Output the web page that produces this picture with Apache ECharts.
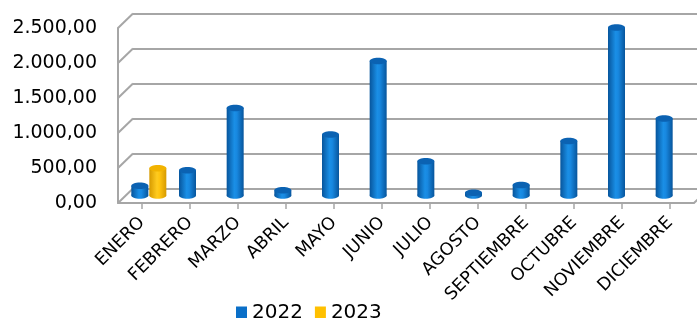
<!DOCTYPE html>
<html>
<head>
<meta charset="utf-8">
<script src="https://cdn.jsdelivr.net/npm/echarts@6/dist/echarts.min.js"></script>
<style>
html,body{margin:0;padding:0;background:#fff;}
#c{width:697px;height:318px;}
</style>
</head>
<body>
<div id="c"></div>
<script>
const categories = ['ENERO','FEBRERO','MARZO','ABRIL','MAYO','JUNIO','JULIO','AGOSTO','SEPTIEMBRE','OCTUBRE','NOVIEMBRE','DICIEMBRE'];
const values2022 = [140, 360, 1250, 75, 870, 1920, 490, 40, 150, 780, 2400, 1100];
const values2023 = [390, null, null, null, null, null, null, null, null, null, null, null];
const seriesNames = ['2022', '2023'];
const yTicks = [0, 500, 1000, 1500, 2000, 2500];

const FONT = 'DejaVu Sans';
const GRID_COLOR = '#a6a6a6';

function fmt(v) {
  const s = Math.round(v).toString().replace(/\B(?=(\d{3})+(?!\d))/g, '.');
  return s + ',00';
}

const blueSide = () => new echarts.graphic.LinearGradient(0, 0, 1, 0, [
  {offset: 0, color: '#07559c'},
  {offset: 0.45, color: '#1a8fe6'},
  {offset: 0.6, color: '#1888e0'},
  {offset: 1, color: '#07559c'}
]);
const yellowSide = () => new echarts.graphic.LinearGradient(0, 0, 1, 0, [
  {offset: 0, color: '#d69a00'},
  {offset: 0.45, color: '#ffcb1f'},
  {offset: 0.6, color: '#ffc410'},
  {offset: 1, color: '#d69a00'}
]);

function makeRender(offset, sideFn, topColor) {
  return function (params, api) {
    const idx = api.value(0);
    const v = api.value(1);
    const top = api.coord([idx, v]);
    const base = api.coord([idx, 0]);
    const w = 17, eh = 6.5;
    const cx = top[0] + offset;
    return {
      type: 'group',
      children: [
        {type: 'ellipse', shape: {cx: cx, cy: base[1], rx: w / 2, ry: eh / 2}, style: {fill: sideFn()}},
        {type: 'rect', shape: {x: cx - w / 2, y: top[1], width: w, height: base[1] - top[1]}, style: {fill: sideFn()}},
        {type: 'ellipse', shape: {cx: cx, cy: top[1], rx: w / 2, ry: eh / 2}, style: {fill: topColor}}
      ]
    };
  };
}

function toData(arr) {
  const out = [];
  arr.forEach((v, i) => { if (v !== null && v !== undefined) out.push([i, v]); });
  return out;
}

const chart = echarts.init(document.getElementById('c'), null, {renderer: 'canvas'});

const yBase = {type: 'value', min: yTicks[0], max: yTicks[yTicks.length - 1], interval: 500};

const option = {
  animation: false,
  backgroundColor: '#fff',
  grid: [
    {left: 118, top: 28, width: 576, height: 175},      // front plane
    {left: 133, top: 13.5, right: 0, height: 175},      // back wall
    {left: 125, top: 20.5, width: 576, height: 175}     // bars (mid depth)
  ],
  xAxis: [
    {
      type: 'category', gridIndex: 0, data: categories,
      axisLine: {show: true, lineStyle: {color: GRID_COLOR, width: 2}},
      axisTick: {show: true, alignWithLabel: true, length: 6, lineStyle: {color: GRID_COLOR, width: 1.5}},
      axisLabel: {interval: 0, rotate: 45, margin: 17, color: '#000', fontFamily: FONT, fontSize: 17.5}
    },
    {type: 'category', gridIndex: 1, data: categories, show: false},
    {type: 'category', gridIndex: 2, data: categories, show: false}
  ],
  yAxis: [
    Object.assign({}, yBase, {
      gridIndex: 0,
      axisLine: {show: true, lineStyle: {color: GRID_COLOR, width: 2}},
      axisTick: {show: false},
      splitLine: {show: false},
      axisLabel: {margin: 21, color: '#000', fontFamily: FONT, fontSize: 19, formatter: fmt}
    }),
    Object.assign({}, yBase, {
      gridIndex: 1,
      axisLine: {show: false}, axisTick: {show: false}, axisLabel: {show: false},
      splitLine: {show: true, lineStyle: {color: GRID_COLOR, width: 2}}
    }),
    Object.assign({}, yBase, {gridIndex: 2, show: false})
  ],
  legend: {
    left: 231, top: 298, itemWidth: 11, itemHeight: 13, itemGap: 12,
    icon: 'rect',
    textStyle: {fontFamily: FONT, fontSize: 20, color: '#000'},
    data: seriesNames
  },
  series: [
    {
      name: seriesNames[0], type: 'custom', xAxisIndex: 2, yAxisIndex: 2,
      itemStyle: {color: '#0a6fc8'},
      renderItem: makeRender(-9, blueSide, '#0b62b2'),
      data: toData(values2022)
    },
    {
      name: seriesNames[1], type: 'custom', xAxisIndex: 2, yAxisIndex: 2,
      itemStyle: {color: '#ffc000'},
      renderItem: makeRender(9, yellowSide, '#f2b300'),
      data: toData(values2023)
    }
  ]
};
chart.setOption(option);

// left wall diagonals and floor connecting front plane to back wall
const lines = [];
yTicks.forEach(v => {
  const fy = chart.convertToPixel({yAxisIndex: 0}, v);
  const by = chart.convertToPixel({yAxisIndex: 1}, v);
  lines.push({type: 'line', shape: {x1: 118, y1: fy, x2: 133, y2: by}, style: {stroke: GRID_COLOR, lineWidth: 2}, z: 1});
});
const fy0 = chart.convertToPixel({yAxisIndex: 0}, 0);
const by0 = chart.convertToPixel({yAxisIndex: 1}, 0);
lines.push({type: 'line', shape: {x1: 694, y1: fy0, x2: 709, y2: by0}, style: {stroke: GRID_COLOR, lineWidth: 2}, z: 1});
chart.setOption({graphic: lines});
</script>
</body>
</html>
